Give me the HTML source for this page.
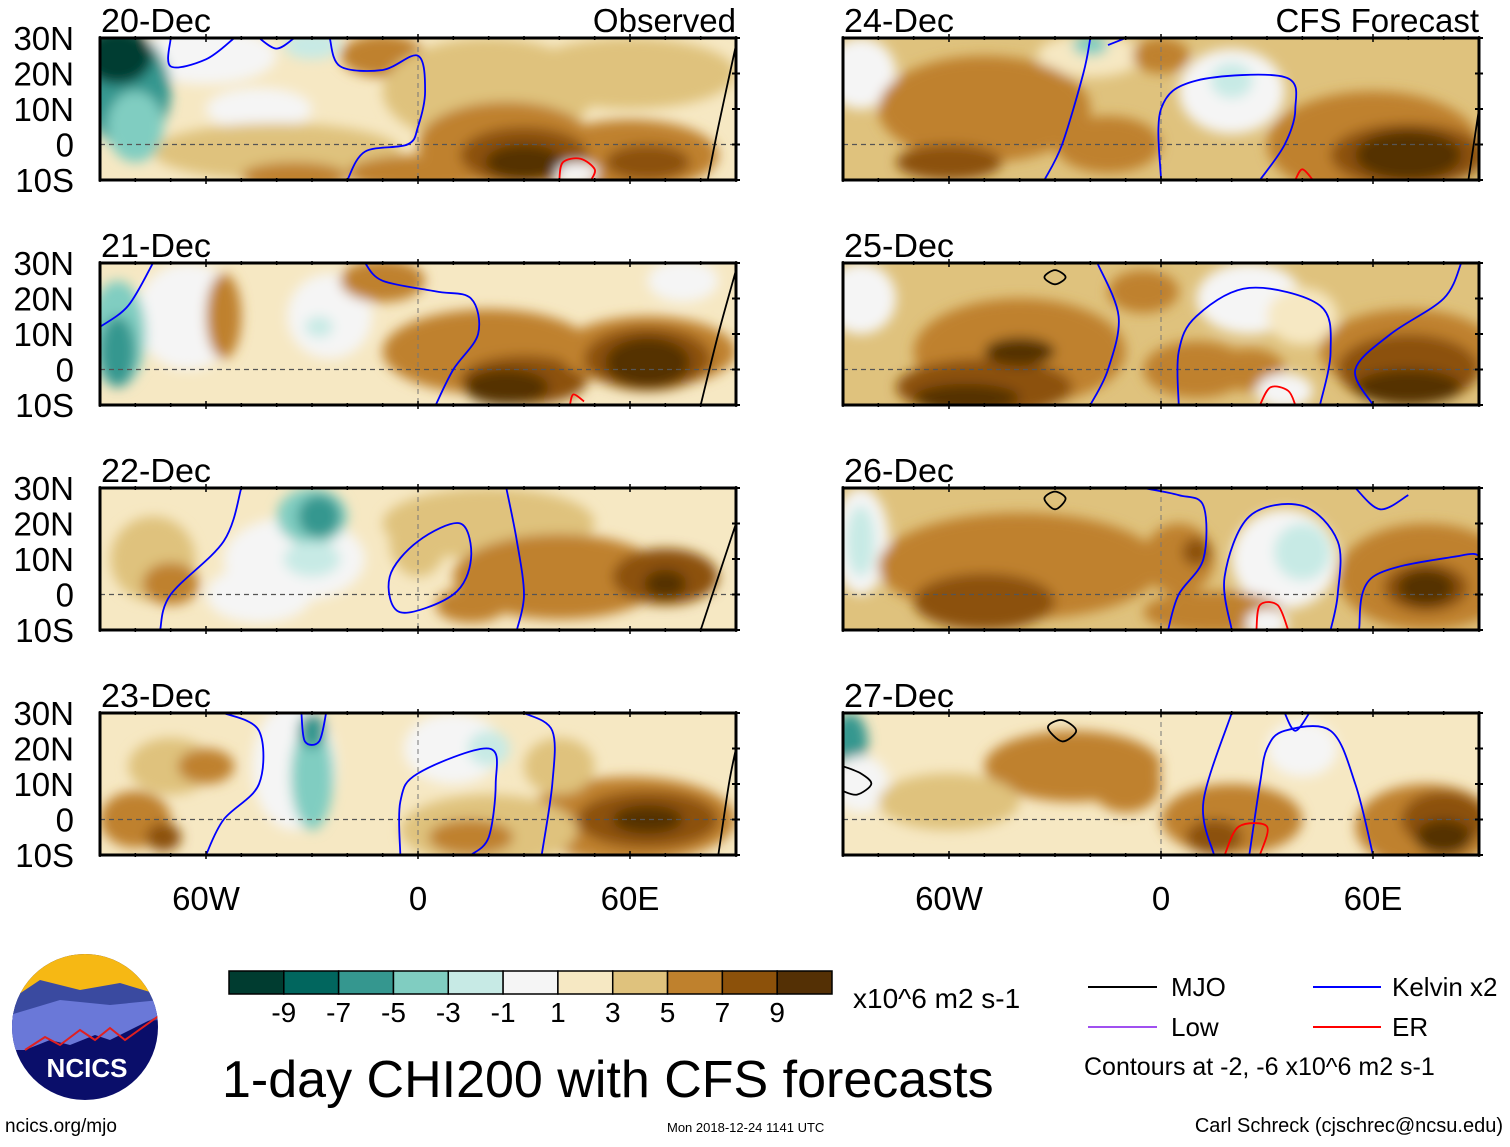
<!DOCTYPE html>
<html><head><meta charset="utf-8"><style>
body{margin:0;background:#fff;width:1510px;height:1142px;overflow:hidden;font-family:"Liberation Sans",sans-serif}
svg text{font-family:"Liberation Sans",sans-serif}
</style></head><body>
<svg id="main" width="1510" height="1142" viewBox="0 0 1510 1142" xmlns="http://www.w3.org/2000/svg">
<defs><filter id="blur" x="-20%" y="-20%" width="140%" height="140%"><feGaussianBlur stdDeviation="6"/></filter></defs>
<g id="panels"></g>
<g id="legend">
<g id="cbar"></g>
<text x="853" y="1008" font-size="28">x10^6 m2 s-1</text>
<text x="222" y="1097" font-size="52">1-day CHI200 with CFS forecasts</text>
<line x1="1088" y1="987" x2="1157" y2="987" stroke="#000" stroke-width="2"/>
<text x="1171" y="996" font-size="26">MJO</text>
<line x1="1313" y1="987" x2="1381" y2="987" stroke="#0000ff" stroke-width="2"/>
<text x="1392" y="996" font-size="26">Kelvin x2</text>
<line x1="1088" y1="1027" x2="1157" y2="1027" stroke="#a050f0" stroke-width="2"/>
<text x="1171" y="1036" font-size="26">Low</text>
<line x1="1313" y1="1027" x2="1381" y2="1027" stroke="#ff0000" stroke-width="2"/>
<text x="1392" y="1036" font-size="26">ER</text>
<text x="1084" y="1075" font-size="25">Contours at -2, -6 x10^6 m2 s-1</text>
</g>
<g>
<clipPath id="lc"><circle cx="85" cy="1027" r="73"/></clipPath>
<g clip-path="url(#lc)">
<rect x="10" y="950" width="150" height="160" fill="#0a0e6a"/>
<rect x="10" y="950" width="150" height="45" fill="#f6b814"/>
<path d="M10 1000 L40 980 L80 990 L120 983 L160 995 L160 1020 L10 1030Z" fill="#3a4aa0"/>
<path d="M10 1015 L60 1000 L110 1005 L160 1000 L160 1015 L130 1030 L110 1040 L95 1035 L70 1045 L50 1040 L25 1050 L10 1050Z" fill="#6a78d8"/>
<path d="M25 1050 L45 1037 L60 1045 L80 1030 L95 1040 L110 1028 L125 1040 L160 1015" fill="none" stroke="#e02020" stroke-width="2"/>
</g>
<text x="87" y="1077" font-size="26" font-weight="bold" fill="#fff" text-anchor="middle">NCICS</text>
</g>
<text x="5" y="1132" font-size="19">ncics.org/mjo</text>
<text x="667" y="1132" font-size="13">Mon 2018-12-24 1141 UTC</text>
<text x="1503" y="1132" font-size="20" text-anchor="end">Carl Schreck (cjschrec@ncsu.edu)</text>
</svg>
<script>
const levelColors=["#003c30","#01665e","#35978f","#80cdc1","#c7eae5","#f5f5f5","#f6e8c3","#dfc27d","#bf812d","#8c510a","#543005"];
const cbarLabels=["-9","-7","-5","-3","-1","1","3","5","7","9"];
const panelDates=["20-Dec","21-Dec","22-Dec","23-Dec","24-Dec","25-Dec","26-Dec","27-Dec"];
const panelBg=[6,6,6,6,7,7,7,6];
// blobs: [lon, lat, rxDeg, ryDeg, level]
const blobs0=[[-60,25,20,8,5],[-45,10,15,6,5],[-40,-2,35,8,7],[-10,25,12,6,8],[20,15,30,15,7],[60,20,30,10,7],[60,-3,25,10,8],[25,0,25,12,8],[-35,-9,15,4,8],[0,-8,20,5,8],[30,-3,18,8,9],[30,-5,11,5,10],[65,-5,12,5,9],[-82,15,12,16,2],[-85,25,10,8,0],[-80,5,8,10,3],[-30,28,8,4,4],[45,-8,6,3,5]];
const blobs1=[[-65,15,15,15,5],[-25,15,12,12,5],[-55,15,5,12,8],[-10,25,12,6,8],[20,5,30,12,8],[30,-3,18,7,9],[25,-5,12,5,10],[65,5,25,10,8],[65,3,18,9,9],[65,2,12,7,10],[-85,10,8,15,3],[-85,5,5,10,2],[-28,12,4,3,4],[75,25,10,6,5]];
const blobs2=[[-35,10,20,12,5],[-45,0,15,8,5],[-75,10,12,12,7],[-70,3,8,6,8],[20,20,30,10,7],[40,5,30,12,8],[70,5,15,8,9],[70,3,6,4,10],[15,-3,10,5,8],[0,15,8,10,7],[-30,22,10,8,3],[-28,22,6,6,2],[-30,10,8,5,4]];
const blobs3=[[-35,15,12,18,5],[10,20,14,10,5],[-70,15,12,8,7],[-60,15,8,5,8],[-80,0,10,8,8],[-72,-5,5,4,9],[60,0,30,12,8],[65,0,20,8,9],[65,0,10,4,10],[20,-3,25,10,7],[15,-5,12,5,8],[40,15,10,8,7],[-30,12,6,15,3],[-30,25,4,5,2],[20,20,6,5,4]];
const blobs4=[[-85,20,10,10,5],[-20,25,15,6,6],[20,15,15,12,5],[-50,10,30,15,8],[-60,-5,15,5,9],[-15,0,15,8,8],[60,0,30,15,8],[70,-3,22,9,9],[70,-3,15,7,10],[0,25,8,5,8],[-20,28,5,3,3],[20,18,6,5,4]];
const blobs5=[[-85,20,10,10,5],[-40,5,30,15,8],[-50,-5,25,8,9],[-40,5,10,4,10],[-55,-8,15,4,10],[10,0,15,8,8],[25,0,10,6,8],[25,20,15,10,5],[40,15,10,8,6],[70,5,25,12,8],[70,0,20,10,9],[70,-5,15,5,10],[-5,22,10,6,8],[35,-6,8,5,5]];
const blobs6=[[-85,15,8,15,5],[-85,15,4,10,4],[-40,8,40,15,8],[-50,-2,20,8,9],[5,10,10,10,8],[10,12,4,4,9],[35,10,15,14,5],[40,12,8,8,4],[75,5,25,15,8],[75,2,12,7,9],[75,2,8,5,10],[15,-5,20,6,8],[30,-8,6,4,5]];
const blobs7=[[-88,22,5,8,2],[-85,10,8,8,5],[-25,15,25,10,8],[-10,10,10,8,8],[20,0,20,10,8],[15,-5,8,5,9],[75,-2,20,12,8],[80,0,12,8,9],[80,-5,8,5,10],[40,20,10,8,5],[-60,5,20,8,7]];
const allBlobs=[blobs0,blobs1,blobs2,blobs3,blobs4,blobs5,blobs6,blobs7];
// contour lines [color, points lon/lat]
const lines0=[["#0000ff",[[-70,30],[-70,22],[-60,24],[-52,30]]],["#0000ff",[[-25,30],[-22,22],[-10,21],[0,25],[2,15],[0,5],[-3,0],[-15,-2],[-20,-10]]],["#0000ff",[[-45,30],[-40,27],[-35,30]]],["#ff0000",[[40,-10],[41,-5],[46,-4],[50,-7],[49,-10]]],["#000000",[[82,-10],[85,5],[90,28]]]];
const lines1=[["#0000ff",[[-90,12],[-82,18],[-75,30]]],["#0000ff",[[-15,30],[-10,25],[5,22],[15,20],[17,10],[10,0],[5,-10]]],["#000000",[[80,-10],[85,10],[90,28]]],["#ff0000",[[43,-10],[44,-7],[47,-9]]]];
const lines2=[["#0000ff",[[-50,30],[-55,15],[-70,0],[-73,-10]]],["#0000ff",[[-5,-5],[-8,5],[0,15],[12,20],[15,10],[10,0],[-5,-5]]],["#0000ff",[[25,30],[28,15],[30,0],[28,-10]]],["#000000",[[80,-10],[85,5],[90,20]]]];
const lines3=[["#0000ff",[[-55,30],[-45,25],[-45,10],[-55,0],[-60,-10]]],["#0000ff",[[-5,-10],[-5,5],[0,13],[20,20],[22,10],[20,-5],[15,-10]]],["#0000ff",[[30,30],[38,25],[38,10],[35,-10]]],["#0000ff",[[-33,30],[-32,22],[-28,22],[-26,30]]],["#000000",[[85,-10],[88,10],[90,20]]]];
const lines4=[["#0000ff",[[-20,30],[-22,20],[-28,0],[-33,-10]]],["#0000ff",[[0,-10],[0,10],[10,18],[35,19],[38,10],[35,0],[28,-10]]],["#0000ff",[[-15,28],[-10,30]]],["#000000",[[87,-10],[90,10]]],["#ff0000",[[38,-10],[40,-7],[43,-10]]]];
const lines5=[["#0000ff",[[-18,30],[-12,15],[-15,0],[-20,-10]]],["#0000ff",[[5,-10],[5,5],[10,15],[25,23],[45,18],[48,5],[45,-10]]],["#0000ff",[[60,-10],[55,0],[65,10],[80,20],[85,30]]],["#000000",[[-33,26],[-30,28],[-27,26],[-30,24],[-33,26]]],["#ff0000",[[28,-10],[31,-5],[36,-6],[38,-10]]]];
const lines6=[["#0000ff",[[-5,30],[5,28],[12,25],[12,10],[5,0],[2,-10]]],["#0000ff",[[20,-10],[18,5],[25,22],[40,25],[50,15],[50,0],[48,-10]]],["#0000ff",[[55,30],[62,24],[70,28]]],["#0000ff",[[56,-10],[60,5],[85,11],[90,11]]],["#000000",[[-33,27],[-30,29],[-27,27],[-30,24],[-33,27]]],["#ff0000",[[27,-10],[28,-3],[33,-3],[36,-10]]]];
const lines7=[["#0000ff",[[25,-10],[28,10],[30,20],[35,25],[48,25],[55,10],[60,-10]]],["#0000ff",[[15,-10],[12,5],[20,30]]],["#0000ff",[[35,30],[38,25],[42,30]]],["#ff0000",[[18,-10],[22,-2],[30,-2],[28,-10]]],["#000000",[[-90,15],[-85,13],[-82,10],[-86,7],[-90,8]]],["#000000",[[-32,26],[-28,28],[-24,25],[-28,22],[-32,26]]]];
const allLines=[lines0,lines1,lines2,lines3,lines4,lines5,lines6,lines7];

const NS="http://www.w3.org/2000/svg";
function mk(tag,attrs,parent){const e=document.createElementNS(NS,tag);for(const k in attrs)e.setAttribute(k,attrs[k]);parent.appendChild(e);return e;}
function smooth(pts){
  const closed=pts.length>3&&pts[0][0]===pts[pts.length-1][0]&&pts[0][1]===pts[pts.length-1][1];
  let d='M'+pts[0][0].toFixed(1)+' '+pts[0][1].toFixed(1);
  const n=pts.length;
  for(let i=0;i<n-1;i++){
    const p0=pts[i>0?i-1:(closed?n-2:0)],p1=pts[i],p2=pts[i+1],p3=pts[i+2<n?i+2:(closed?1:n-1)];
    const c1=[p1[0]+(p2[0]-p0[0])/6,p1[1]+(p2[1]-p0[1])/6],c2=[p2[0]-(p3[0]-p1[0])/6,p2[1]-(p3[1]-p1[1])/6];
    d+=' C'+c1[0].toFixed(1)+' '+c1[1].toFixed(1)+' '+c2[0].toFixed(1)+' '+c2[1].toFixed(1)+' '+p2[0].toFixed(1)+' '+p2[1].toFixed(1);
  }
  return d;
}
const panelsG=document.getElementById('panels');
const colX=[100,843], rowY=[38,263,488,713], W=636, H=142;
for(let p=0;p<8;p++){
  const x0=colX[p<4?0:1], y0=rowY[p%4];
  const xs=lon=>x0+(lon+90)/180*W, ys=lat=>y0+(30-lat)/40*H;
  const sx=W/180, sy=H/40;
  const g=mk('g',{},panelsG);
  
  
  const cp=mk('clipPath',{id:'cp'+p},g);
  mk('rect',{x:x0,y:y0,width:W,height:H},cp);
  const inner=mk('g',{'clip-path':'url(#cp'+p+')'},g);
  mk('rect',{x:x0,y:y0,width:W,height:H,fill:levelColors[panelBg[p]]},inner);
  const bl=mk('g',{filter:'url(#blur)'},inner);
  allBlobs[p].forEach(b=>{
    const e=mk('ellipse',{cx:xs(b[0]),cy:ys(b[1]),rx:b[2]*sx,ry:b[3]*sy,fill:levelColors[b[4]]},bl);
    
    
  });
  mk('line',{x1:x0,x2:x0+W,y1:ys(0),y2:ys(0),stroke:'#555','stroke-dasharray':'5,4','stroke-width':1.3},inner);
  mk('line',{x1:xs(0),x2:xs(0),y1:y0,y2:y0+H,stroke:'#777','stroke-dasharray':'5,4','stroke-width':1},inner);
  allLines[p].forEach(l=>{
    const d=smooth(l[1].map(pt=>[xs(pt[0]),ys(pt[1])]));
    const e=mk('path',{d:d,fill:'none',stroke:l[0],'stroke-width':1.8,'stroke-linejoin':'round'},inner);
    
    
  });
  mk('rect',{x:x0,y:y0,width:W,height:H,fill:'none',stroke:'#000','stroke-width':3},g);
  for(let lon=-90;lon<=90;lon+=10){
    const L=(lon%60===0)?8:4;
    mk('line',{x1:xs(lon),x2:xs(lon),y1:y0-L/2,y2:y0+L/2,stroke:'#000','stroke-width':1.5},g);
    mk('line',{x1:xs(lon),x2:xs(lon),y1:y0+H-L/2,y2:y0+H+L/2,stroke:'#000','stroke-width':1.5},g);
  }
  for(let lat=-10;lat<=30;lat+=10){
    mk('line',{x1:x0+W-4,x2:x0+W+4,y1:ys(lat),y2:ys(lat),stroke:'#000','stroke-width':2},g);
  }
  const t=mk('text',{x:x0+1,y:y0-6,'font-size':33,'textLength':110,'lengthAdjust':'spacingAndGlyphs'},g);t.textContent=panelDates[p];
  
  
  if(p%4===0){
    const t2=mk('text',{x:x0+W,y:y0-6,'font-size':33,'text-anchor':'end'},g);t2.textContent=p===0?'Observed':'CFS Forecast';
    
    
  }
  if(p<4){
    ['30N','20N','10N','0','10S'].forEach((s,i)=>{
      const e=mk('text',{x:74,y:ys(30-10*i)+12,'font-size':33,'text-anchor':'end'},g);e.textContent=s;
      
      
    });
  }
  if(p%4===3){
    ['60W','0','60E'].forEach((s,i)=>{
      const e=mk('text',{x:xs(-60+60*i),y:y0+H+55,'font-size':33,'text-anchor':'middle'},g);e.textContent=s;
      
      
    });
  }
}
const cb=document.getElementById('cbar');
const bw=(832-229)/11;
levelColors.forEach((c,i)=>{
  const r=mk('rect',{x:229+i*bw,y:971,width:bw,height:23,fill:c,stroke:'#000','stroke-width':1.5},cb);
  
  
});
cbarLabels.forEach((s,i)=>{
  const t=mk('text',{x:229+(i+1)*bw,y:1022,'font-size':28,'text-anchor':'middle'},cb);t.textContent=s;
  
  
});
</script>
</body></html>
